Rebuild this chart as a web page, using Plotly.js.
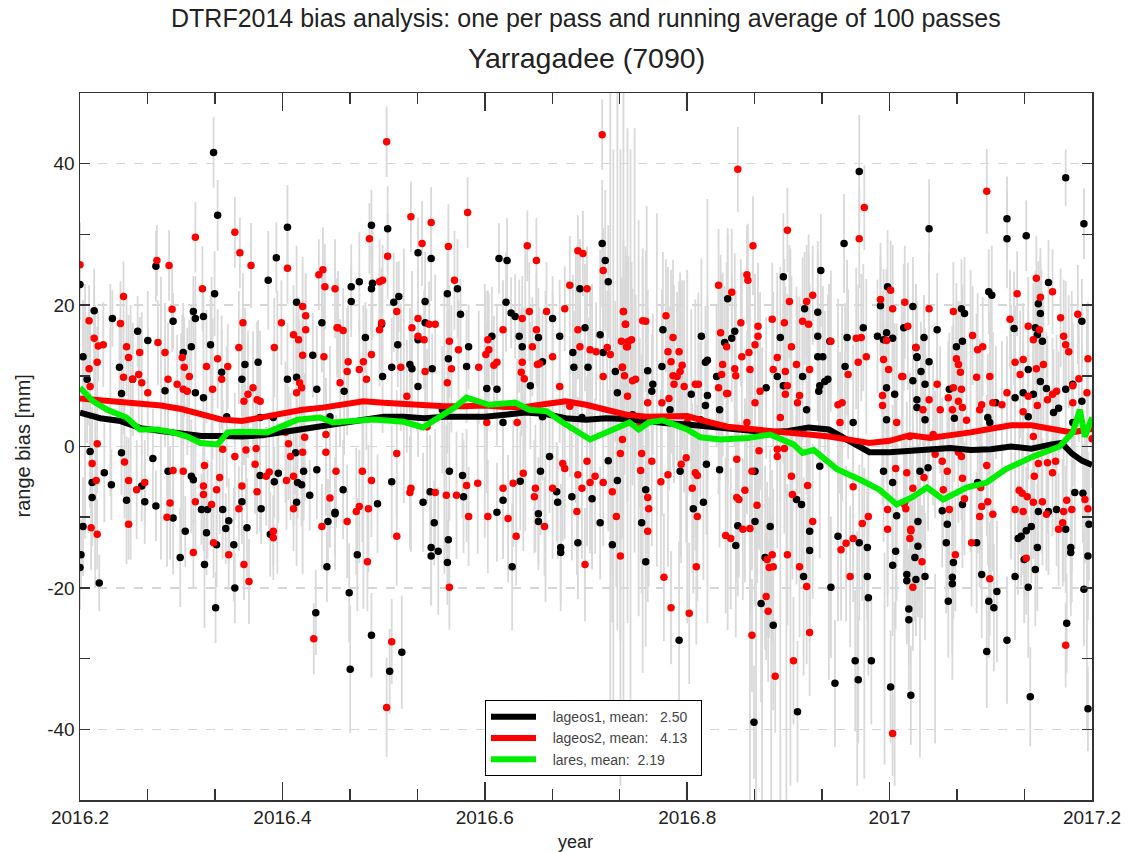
<!DOCTYPE html>
<html>
<head>
<meta charset="utf-8">
<script src="https://cdn.plot.ly/plotly-3.0.1.min.js"></script>
<style>html,body{margin:0;padding:0;background:#fff;}#chart{width:1128px;height:852px;}</style>
</head>
<body>
<div id="chart"></div>
<script>
// ---------- lageos1 (black) single-pass biases ----------
const lageos1_x = [
2016.200,2016.214,2016.232,2016.257,2016.267,2016.275,2016.284,2016.292,2016.200,2016.201,
2016.203,2016.219,2016.212,2016.212,2016.210,2016.231,2016.224,2016.241,2016.246,2016.261,
2016.264,2016.272,2016.275,2016.292,2016.287,2016.299,2016.304,2016.310,2016.312,2016.320,
2016.323,2016.325,2016.326,2016.334,2016.335,2016.341,2016.344,2016.347,2016.352,2016.353,
2016.360,2016.365,2016.379,2016.378,2016.388,2016.392,2016.396,2016.413,2016.415,2016.414,
2016.419,2016.427,2016.421,2016.433,2016.444,2016.434,2016.445,2016.452,2016.312,2016.314,
2016.322,2016.329,2016.332,2016.336,2016.333,2016.322,2016.310,2016.386,2016.394,2016.405,
2016.414,2016.430,2016.439,2016.414,2016.376,
2016.468,2016.468,2016.476,2016.488,2016.488,2016.489,2016.482,2016.504,2016.510,2016.515,
2016.514,2016.498,2016.534,2016.547,2016.541,2016.541,2016.534,2016.526,2016.528,2016.548,
2016.563,2016.573,2016.576,2016.584,2016.582,2016.564,2016.602,2016.614,2016.622,2016.621,
2016.626,2016.630,2016.634,2016.653,2016.637,2016.645,2016.657,2016.667,2016.674,2016.694,
2016.699,2016.688,2016.702,2016.719,2016.722,2016.716,2016.714,2016.729,2016.717,2016.687,
2016.460,2016.452,2016.474,2016.466,2016.488,2016.467,2016.508,2016.494,2016.506,2016.518,
2016.539,2016.550,2016.547,2016.547,2016.554,2016.563,2016.564,2016.546,2016.565,2016.578,
2016.579,2016.612,2016.627,2016.618,2016.635,2016.653,2016.653,2016.655,2016.664,2016.671,
2016.672,2016.675,2016.675,2016.692,2016.686,2016.706,2016.714,2016.726,2016.731,2016.722,
2016.761,2016.766,2016.765,2016.776,2016.775,2016.804,2016.818,2016.820,2016.814,2016.840,
2016.844,2016.837,2016.829,2016.820,2016.818,2016.847,2016.878,2016.889,2016.895,2016.892,
2016.895,2016.914,2016.916,2016.929,2016.929,2016.929,2016.932,2016.934,2016.931,2016.930,
2016.936,2016.939,2016.941,2016.956,2016.958,2016.955,2016.970,2016.974,2016.988,2016.994,
2016.997,2016.998,2016.991,2016.997,2017.003,2017.023,2017.014,2017.023,2017.005,2017.027,
2017.027,
2016.759,2016.755,2016.759,2016.792,2016.816,2016.819,2016.806,2016.848,2016.850,2016.867,
2016.867,2016.866,2016.873,2016.885,2016.877,2016.882,2016.909,2016.908,2016.913,2016.915,
2016.921,2016.921,2016.942,2016.946,2016.949,2016.970,2016.966,2016.969,2016.978,2016.979,
2016.982,2016.978,2017.001,2017.006,2017.003,2017.017,2017.019,2017.019,2017.021,2017.017,
2017.028,2017.028,2017.025,2017.007,2016.994,2017.003,
2017.039,2017.047,2017.034,2017.026,2017.027,2017.031,2017.039,2017.035,2017.027,2017.035,
2017.059,2017.064,2017.071,2017.074,2017.066,2017.072,2017.098,2017.101,2017.097,2017.105,
2017.116,2017.116,2017.135,2017.123,2017.124,2017.132,2017.137,2017.137,2017.142,2017.144,
2017.146,2017.147,2017.149,2017.151,2017.149,2017.155,2017.157,2017.162,2017.167,2017.174,
2017.181,2017.190,2017.190,2017.174,2017.192,
2017.026,2017.035,2017.030,2017.038,2017.052,2017.057,2017.056,2017.063,2017.062,2017.062,
2017.058,2017.072,2017.086,2017.091,2017.098,2017.103,2017.106,2017.096,2017.116,2017.087,
2017.124,2017.127,2017.130,2017.135,2017.140,2017.133,2017.137,2017.144,2017.146,2017.139,
2017.147,2017.157,2017.165,2017.174,2017.179,2017.179,2017.175,2017.183,2017.191,2017.197,
2017.196,2017.192,2017.196,
2016.203,2016.207,2016.239,2016.241,2016.252,2016.302,2016.314,2016.340,2016.345,2016.360,
2016.363,2016.378,2016.391,2016.405,2016.434,2016.447,2016.461,2016.499,2016.508,2016.534,
2016.558,2016.607,2016.612,2016.618,2016.657,2016.696,2016.731,2016.746,2016.783,2016.813,
2016.832,2016.918,2016.964,2016.997,2017.099,2017.181,2016.793,2016.832,2016.931
];
const lageos1_y = [
22.9,19.2,18.1,16.3,15.0,25.5,7.9,17.7,-17.1,-15.3,
-11.3,-19.3,-5.1,-7.2,-0.7,-5.4,-3.7,-0.9,-7.6,-5.6,
-7.8,-1.7,-8.4,-10.1,-3.5,-15.7,-12.0,-4.2,-4.7,-8.9,
-16.7,-12.2,-8.9,-22.8,-13.9,-8.9,-11.6,-10.5,-13.9,-20.0,
-7.8,-11.5,-8.8,-4.1,-12.4,-5.0,-3.8,-0.9,-5.1,-7.9,
-5.4,-6.9,-3.5,-23.5,-17.0,-3.3,-10.6,-9.5,19.1,18.1,
18.4,14.4,41.6,32.7,21.6,6.9,14.1,23.5,26.7,31.0,
20.4,12.9,17.5,9.8,11.9,
22.6,20.5,23.3,31.3,22.3,23.1,15.4,30.8,20.4,21.2,
14.4,17.3,27.4,26.6,20.5,17.5,15.1,11.6,11.0,11.0,
21.6,22.3,18.7,14.1,11.3,12.4,8.2,26.6,26.3,20.4,
18.9,18.4,15.6,15.4,14.1,8.6,12.0,18.1,15.6,22.3,
16.8,11.2,11.2,26.3,23.3,28.7,15.8,10.6,13.3,13.3,
-6.1,-9.3,-15.3,-20.7,-26.7,-31.5,-5.0,-8.1,-31.8,-29.1,
-7.9,-10.8,-14.3,-15.5,-14.8,-16.4,-13.2,-6.4,-3.5,-4.1,
-7.1,-9.3,-17.0,-7.6,-4.9,-9.5,-10.6,-3.5,-1.4,-6.4,
-7.9,-14.3,-15.0,-13.6,-7.1,-7.4,-10.8,-13.9,-4.8,-2.0,
10.7,8.8,7.8,16.5,11.3,7.4,11.9,12.2,15.6,20.9,
15.3,14.7,9.9,7.2,5.8,16.3,8.3,9.9,24.0,15.4,
8.6,9.9,19.5,19.0,15.6,12.7,24.9,12.7,8.6,7.8,
9.2,9.5,14.9,11.3,15.4,28.7,38.9,16.8,15.6,15.1,
8.3,22.6,19.9,16.1,15.3,19.8,16.8,9.3,7.4,12.7,
6.6,
-16.3,-10.8,-6.1,-27.4,-7.9,-2.5,-8.8,-14.0,-11.2,-10.6,
-3.5,-39.0,-22.2,-25.3,-15.7,-11.3,-37.5,-7.5,-8.2,-18.4,
-12.0,-14.7,-19.9,-33.5,-12.7,-13.6,-30.3,-33.0,-18.4,-21.4,
-30.3,-14.3,-34.0,-14.8,-16.8,-18.1,-23.0,-24.5,-35.2,-19.0,
-10.6,-14.1,-15.7,-9.8,-3.5,-5.1,
30.8,16.5,15.4,14.0,12.6,10.6,12.0,8.8,5.5,3.8,
8.1,4.0,19.5,18.8,14.1,14.9,21.9,21.4,4.1,6.2,
32.2,29.4,29.8,16.7,6.9,7.6,10.9,4.2,7.4,16.8,
15.8,20.2,18.8,14.9,9.2,8.2,23.2,4.8,5.4,8.1,
8.8,17.7,6.4,38.0,31.5,
-18.8,-18.4,-3.5,-3.0,-9.1,-11.0,-13.6,-16.4,-18.5,-19.4,
-21.9,-8.2,-13.6,-18.1,-21.9,-22.8,-20.5,-29.0,-27.4,-5.1,
-18.4,-13.0,-12.7,-11.9,-11.3,-16.0,-19.9,-17.4,-14.3,-35.4,
-9.2,-9.2,-8.9,-11.7,-14.3,-15.0,-25.0,-6.5,-6.6,-11.0,
-15.5,-20.2,-37.1,
12.7,9.5,11.2,7.5,9.5,13.3,7.6,10.5,4.2,9.5,
11.6,4.1,4.1,9.5,8.1,4.2,7.8,9.9,11.2,8.5,
5.2,15.6,8.1,3.4,4.2,4.1,7.6,4.5,5.2,3.8,
5.2,5.2,3.4,3.8,3.4,3.4,-3.5,-3.3,-2.8
];
const lageos1_err = [
5,6,4,5,7,5,8,4,6,5, 7,4,9,6,8,5,7,6,9,5, 6,7,5,8,6,7,5,8,6,5, 9,6,7,5,6,7,5,6,8,5,
6,7,5,8,6,5,7,6,5,9, 6,5,7,6,5,7,6,8,5,6, 4,7,5,5,6,8,6,7,5,6, 8,6,7,9,6,
6,5,7,5,6,8,5,6,7,5, 6,8,5,6,7,5,6,8,7,5, 6,7,5,6,8,7,9,5,6,7, 5,6,8,7,6,9,7,6,8,7, 9,8,7,10,8,9,12,10,9,11,
7,6,8,7,6,9,8,7,6,8, 7,6,8,7,9,6,7,8,7,6, 8,7,9,8,7,8,6,9,8,7, 8,9,7,8,9,10,8,11,9,10,
9,10,8,11,9,12,8,9,11,10, 9,8,10,12,9,11,10,12,9,10, 11,9,8,10,12,9,8,10,11,9, 10,12,8,9,11,7,8,9,8,10, 9,8,7,9,8,7,9,8,10,7, 8,
12,10,9,14,11,10,12,13,10,12, 11,8,14,12,13,11,10,12,11,14, 12,13,10,9,12,11,10,9,12,11, 9,10,8,11,10,9,8,10,7,9, 11,10,9,12,10,11,
7,8,6,9,8,7,9,8,10,9, 8,9,7,8,9,8,6,7,9,8, 6,7,5,8,9,7,8,9,7,8, 7,6,8,7,9,8,6,9,8,7, 8,6,8,4,5,
8,9,10,9,8,9,10,8,9,10, 8,9,10,9,8,9,10,8,9,10, 9,8,7,9,8,9,10,8,9,7, 8,9,8,9,8,9,7,8,7,8, 9,8,6,
8,9,7,10,8,7,9,8,10,7, 8,9,10,8,9,10,9,8,7,10, 9,7,8,10,9,11,8,10,9,11, 10,12,11,9,8,9,12,11,13
];

// ---------- lageos2 (red) single-pass biases ----------
const lageos2_x = [
2016.200,2016.209,2016.214,2016.218,2016.223,2016.209,2016.217,2016.240,2016.243,2016.246,
2016.248,2016.243,2016.259,2016.258,2016.276,2016.277,2016.284,2016.288,2016.291,2016.287,
2016.296,2016.211,2016.217,2016.212,2016.216,2016.217,2016.244,2016.248,2016.248,2016.256,
2016.264,2016.289,2016.286,2016.292,2016.302,2016.312,2016.314,2016.322,2016.322,2016.323,
2016.330,2016.335,2016.332,2016.338,2016.341,2016.347,2016.353,2016.357,2016.360,2016.362,
2016.367,2016.364,2016.373,2016.374,2016.375,2016.384,2016.387,2016.391,2016.391,2016.404,
2016.406,2016.408,2016.411,2016.411,2016.420,2016.431,2016.439,2016.443,2016.447,2016.453,
2016.314,2016.321,2016.325,2016.336,2016.301,2016.303,2016.308,2016.306,2016.340,2016.346,
2016.353,2016.358,2016.361,2016.357,2016.369,2016.392,2016.399,2016.405,2016.420,2016.423,
2016.423,2016.411,2016.416,2016.420,2016.441,2016.442,2016.436,2016.440,2016.452,2016.455,
2016.417,2016.419,2016.414,2016.378,2016.371,2016.362,
2016.454,2016.460,2016.465,2016.464,2016.476,2016.480,2016.486,2016.488,2016.496,2016.499,
2016.503,2016.504,2016.513,2016.498,2016.496,2016.527,2016.538,2016.547,2016.534,2016.545,
2016.551,2016.528,2016.534,2016.540,2016.517,2016.541,2016.564,2016.570,2016.565,2016.574,
2016.583,2016.567,2016.563,2016.594,2016.603,2016.604,2016.601,2016.609,2016.612,2016.618,
2016.637,2016.642,2016.651,2016.644,2016.651,2016.647,2016.636,2016.639,2016.637,2016.652,
2016.654,2016.661,2016.667,2016.679,2016.684,2016.701,2016.692,2016.697,2016.694,2016.704,
2016.710,2016.717,2016.716,2016.721,2016.724,2016.736,2016.737,2016.739,2016.735,2016.741,
2016.692,
2016.464,2016.484,2016.473,2016.476,2016.479,2016.485,2016.488,2016.513,2016.508,2016.503,
2016.513,2016.526,2016.527,2016.565,2016.551,2016.562,2016.582,2016.572,2016.584,2016.593,
2016.603,2016.623,2016.631,2016.618,2016.628,2016.638,2016.649,2016.650,2016.659,2016.667,
2016.677,2016.679,2016.691,2016.699,2016.696,2016.692,2016.701,2016.704,2016.709,2016.717,
2016.734,2016.730,2016.726,2016.734,
2016.737,2016.739,2016.742,2016.745,2016.740,2016.736,2016.738,2016.746,2016.749,2016.741,
2016.756,2016.759,2016.761,2016.779,2016.786,2016.781,2016.784,2016.792,2016.795,2016.793,
2016.786,2016.790,2016.787,2016.797,2016.782,2016.775,2016.808,2016.811,2016.831,2016.844,
2016.833,2016.839,2016.835,2016.834,2016.831,2016.839,2016.840,2016.847,2016.848,2016.850,
2016.853,2016.859,2016.860,2016.865,2016.861,2016.854,2016.862,2016.867,2016.870,2016.870,
2016.872,2016.867,2016.884,2016.885,2016.889,2016.896,2016.899,2016.901,2016.903,2016.897,
2016.899,2016.897,2016.908,2016.909,2016.918,2016.924,2016.914,2016.920,2016.921,2016.911,
2016.942,2016.949,2016.953,2016.969,2016.959,2016.975,2016.970,2016.967,2016.972,2016.977,
2016.994,2016.999,2016.993,2016.993,2016.991,2017.001,2016.997,2017.003,2017.015,2017.018,
2017.012,2017.007,2017.026,
2016.761,2016.762,2016.761,2016.754,2016.755,2016.765,2016.777,2016.784,2016.802,2016.809,
2016.810,2016.781,2016.794,2016.799,2016.808,2016.810,2016.805,2016.774,2016.838,2016.843,
2016.849,2016.851,2016.857,2016.855,2016.862,2016.869,2016.864,2016.864,2016.878,2016.880,
2016.887,2016.879,2016.881,2016.885,2016.884,2016.871,2016.889,2016.896,2016.899,2016.905,
2016.903,2016.904,2016.911,2016.918,2016.921,2016.919,2016.924,2016.952,2016.957,2016.964,
2016.961,2016.964,2016.973,2016.979,2017.003,2016.998,2017.023,2017.020,2017.021,2017.015,
2017.016,2016.998,2017.006,2017.017,
2017.039,2017.013,2017.047,2017.039,2017.033,2017.050,2017.058,2017.063,2017.071,2017.062,
2017.063,2017.066,2017.068,2017.070,2017.068,2017.072,2017.082,2017.087,2017.092,2017.086,
2017.089,2017.091,2017.076,2017.096,2017.099,2017.102,2017.111,2017.116,2017.119,2017.126,
2017.124,2017.129,2017.132,2017.132,2017.137,2017.137,2017.142,2017.145,2017.149,2017.148,
2017.152,2017.145,2017.146,2017.161,2017.156,2017.161,2017.165,2017.169,2017.172,2017.174,
2017.177,2017.181,2017.186,2017.195,2017.196,2017.187,2017.181,2017.200,
2017.021,2017.032,2017.014,2017.023,2017.034,2017.045,2017.053,2017.052,2017.057,2017.065,
2017.059,2017.068,2017.071,2017.074,2017.081,2017.089,2017.091,2017.099,2017.096,2017.097,
2017.102,2017.090,2017.072,2017.124,2017.132,2017.135,2017.128,2017.131,2017.136,2017.142,
2017.151,2017.155,2017.143,2017.147,2017.156,2017.161,2017.164,2017.167,2017.171,2017.172,
2017.180,2017.175,2017.174,2017.193,2017.196,
2016.210,2016.252,2016.261,2016.267,2016.302,2016.331,2016.366,2016.375,2016.403,2016.422,
2016.443,2016.457,2016.483,2016.523,2016.543,2016.602,2016.632,2016.674,2016.684,2016.717,
2016.736,2016.753,2016.800,2016.859,2016.892,2016.951,2017.020,2017.043,2017.142,2016.849,
2016.889
];
const lageos2_y = [
25.7,17.8,15.3,14.2,14.4,11.0,11.9,17.4,21.2,14.1,
12.6,9.8,13.3,10.2,26.3,14.7,13.3,25.6,19.4,9.5,
8.8,-11.5,-12.4,-2.4,-4.8,0.4,-2.2,-4.8,-11.0,-6.1,
-5.1,-8.0,-10.0,-3.4,-3.5,-15.0,-7.8,-5.6,-6.8,-2.7,
-8.2,-6.1,-13.6,-4.4,-0.4,-15.3,-1.4,-8.8,-5.6,-16.7,
-19.1,-0.5,-2.5,-0.3,-6.4,-4.2,-3.6,-12.0,-12.9,-4.8,
0.4,-1.4,-4.2,-8.8,-0.8,-27.2,-11.3,-0.8,-7.3,-3.5,
29.6,22.3,11.3,12.4,12.6,11.2,9.9,7.8,9.5,11.3,
30.3,27.4,17.5,14.0,25.6,14.0,17.5,25.2,19.8,18.5,
16.5,15.8,15.1,12.9,12.7,22.6,24.3,25.0,22.3,16.8,
9.0,8.3,7.6,6.4,8.3,6.4,
16.8,16.4,12.0,10.6,10.9,12.0,29.4,13.0,23.3,23.5,
43.1,26.9,19.1,17.5,16.5,32.5,28.7,31.7,18.1,17.3,
17.3,16.8,15.6,15.1,11.2,10.6,28.3,23.5,14.9,13.7,
33.1,11.0,9.0,11.2,15.1,13.7,13.0,11.5,11.9,16.5,
18.1,28.4,26.3,19.1,16.5,14.1,10.5,9.6,11.9,11.6,
11.7,19.1,12.7,19.5,22.8,22.3,27.7,27.3,14.1,13.7,
13.4,24.9,44.1,14.0,13.0,11.2,19.1,17.3,14.9,14.1,
16.5,
-10.6,-16.3,-9.2,-8.5,-3.5,-8.8,-4.8,-12.7,-27.6,-36.9,
-1.0,-6.5,-5.9,-19.9,-6.5,-6.9,-5.5,-6.9,-9.9,-5.2,
-9.9,-10.2,-12.7,-5.9,-5.2,-3.8,-7.1,-5.9,-11.3,-5.9,
-2.4,-3.1,-9.2,-16.7,-5.9,-4.0,-2.1,-5.1,-4.2,-5.1,
-15.5,-9.9,-6.4,-1.0,
19.1,17.3,14.9,15.1,14.1,11.2,10.0,9.3,9.5,7.1,
17.8,17.7,6.2,18.5,15.4,13.4,12.0,13.4,11.5,10.6,
10.0,9.9,8.8,8.5,6.8,6.2,8.8,8.8,22.8,21.8,
16.1,14.1,11.6,10.2,8.3,7.5,7.5,11.0,10.0,39.2,
17.5,24.3,23.5,28.4,13.3,12.7,10.9,14.4,17.0,15.6,
7.8,6.2,18.0,10.9,12.6,17.5,30.6,20.5,14.1,10.6,
8.6,7.4,11.6,6.2,20.5,21.4,17.7,17.3,10.9,7.2,
14.9,5.9,6.2,11.9,10.2,33.8,29.4,15.3,15.4,12.7,
12.3,10.9,7.2,5.8,20.8,22.1,15.0,19.5,20.4,17.0,
9.9,3.4,14.0,
-12.0,-8.8,-7.2,-3.4,-1.0,-2.1,-18.5,-22.8,-23.6,-17.0,
-9.9,-4.0,-2.5,-1.6,-3.7,-4.1,-5.9,-5.0,-12.6,-13.0,
-7.2,-7.5,-6.2,-11.7,-11.6,-8.3,-3.5,-26.7,-21.2,-23.3,
-32.5,-16.0,-17.1,-17.0,-15.3,-0.6,-1.4,-0.3,-15.3,-30.3,
-4.2,-6.8,-17.0,-19.8,-26.3,-5.5,-10.6,-14.6,-13.7,-13.0,
-18.4,-5.7,-10.9,-9.9,-40.6,-11.7,-19.9,-13.0,-11.9,-7.9,
-8.8,-8.9,-3.1,-3.7,
19.5,9.9,8.8,6.6,5.2,5.2,6.9,8.3,8.1,5.2,
19.1,12.4,11.6,10.5,6.4,5.5,15.7,13.7,14.1,9.8,
5.2,5.9,3.7,36.1,9.9,6.2,5.9,7.6,18.0,21.6,
11.9,10.2,12.3,4.9,7.1,17.0,15.1,23.8,21.1,16.5,
11.6,11.0,5.8,21.9,6.6,7.4,7.8,18.2,15.6,14.4,
13.4,8.6,18.7,7.6,12.4,9.6,6.2,1.1,
-11.7,-16.3,-8.1,-5.9,-4.4,-1.1,-6.1,-2.1,-3.5,-15.3,
-8.9,-0.8,-1.4,-7.4,-13.6,-9.9,-8.5,-18.7,-2.7,-7.8,
-9.6,-5.8,-4.5,-8.9,-9.2,-15.8,-6.2,-6.6,-7.1,-7.9,
-7.8,-9.6,-4.2,-2.4,-2.3,-3.7,-2.1,-11.7,-10.8,-9.2,
-8.9,-7.6,-28.1,-7.5,-8.8,
8.5,9.5,9.0,7.6,8.1,8.1,7.4,6.6,2.0,1.3,
1.7,9.0,9.5,7.1,2.8,3.4,3.4,8.5,5.7,9.9,
1.0,3.4,3.4,3.4,4.1,3.4,1.4,1.7,1.4,-1.8,
-0.4
];
const lageos2_err = [
6,5,7,5,6,8,5,6,5,7, 6,8,5,7,5,6,7,5,6,8, 7,6,5,8,6,7,8,6,5,7, 6,8,7,6,8,5,7,6,8,7, 6,7,5,8,7,5,9,6,7,5, 6,8,7,9,6,7,8,5,6,7, 8,9,7,6,8,5,6,9,7,8,
5,6,8,7,6,7,8,9,7,6, 5,5,7,8,6,7,6,5,7,6, 8,7,6,8,7,6,5,6,7,8, 9,8,9,10,8,9,
7,6,8,9,7,8,5,7,6,5, 5,6,7,6,8,5,6,5,7,6, 7,8,6,7,9,8,6,7,8,7, 5,9,10,8,7,8,9,7,8,7, 6,5,6,7,8,7,9,10,8,7, 8,7,9,6,7,6,5,6,8,9, 7,6,5,8,9,10,7,8,9,8, 7,
8,7,9,8,10,9,8,7,6,7, 9,8,9,6,9,10,8,9,7,10, 8,9,7,10,9,11,8,9,7,10, 11,10,9,8,10,11,12,10,11,9, 12,10,11,13,
10,11,12,11,13,12,14,13,12,15, 9,10,16,8,11,12,13,10,12,14, 13,12,14,15,13,16,12,13,8,9, 11,12,13,14,15,12,13,11,12,6, 9,7,8,7,11,12,13,10,9,10, 14,15,8,11,12,9,6,8,10,12, 13,14,11,15,8,7,9,10,12,14, 10,15,14,11,12,6,7,10,9,11, 10,11,13,14,8,7,10,9,8,9, 11,14,9,
10,11,12,13,14,12,9,8,10,11, 12,13,14,12,11,10,12,13,11,10, 12,11,13,10,12,11,14,8,9,10, 8,11,10,11,12,14,13,12,10,9, 13,12,10,11,9,12,11,10,11,9, 10,12,11,10,6,11,9,10,11,10, 9,12,11,10,
8,9,8,9,10,9,8,9,8,9, 7,8,9,10,9,10,7,8,7,9, 10,9,11,6,9,10,9,8,7,6, 8,9,8,10,9,7,8,6,7,8, 9,8,10,6,9,8,8,7,8,9, 8,9,7,9,8,9,9,7,
9,8,10,9,10,9,8,9,10,8, 9,10,9,8,9,10,9,8,10,9, 8,9,10,8,9,8,9,10,9,8, 9,8,10,9,10,9,10,8,9,10, 9,8,6,9,8,
9,8,10,9,8,10,9,11,10,9, 8,9,10,8,11,10,9,8,10,9, 14,12,11,13,12,10,9,10,9,12, 11
];

// ---------- lares single-pass biases (drawn as grey error bars only) ----------
const lares_x = [
2016.205,2016.215,2016.230,2016.250,2016.280,2016.300,2016.330,2016.360,2016.395,2016.420,
2016.480,2016.520,2016.560,2016.600,2016.640,2016.660,2016.690,2016.706,2016.724,2016.727,
2016.731,2016.734,2016.737,2016.741,2016.744,2016.748,2016.752,2016.756,2016.760,2016.770,
2016.800,2016.820,2016.840,2016.862,2016.868,2016.874,2016.883,2016.892,2016.898,2016.902,
2016.920,2016.940,2016.968,2016.975,2016.995,2017.005,2017.030,2017.045,2017.062,2017.080,
2017.100,2017.120,2017.150,2017.180,2017.195
];
const lares_y = [
5,0,8,2,4,0,6,3,2,0,
-5,10,2,5,8,0,10,3,8,2,
12,-3,6,10,0,15,4,-2,14,8,
0,5,2,-20,-25,-18,-30,-22,-28,-10,
5,-5,-30,-25,-30,-35,-20,-30,-8,5,
0,2,5,0,-10
];
const lares_err = [
18,20,15,18,20,16,18,15,20,18,
18,18,20,18,20,22,18,20,45,40,
38,45,50,35,42,30,28,30,20,25,
25,30,28,30,25,32,20,28,22,38,
25,28,18,22,15,13,24,12,25,20,
22,18,20,22,30
];

// ---------- running averages of 100 passes ----------
const avg_lageos1_x = [2016.20,2016.22,2016.24,2016.26,2016.28,2016.30,2016.32,2016.34,2016.36,2016.38,2016.40,2016.42,2016.44,2016.46,2016.48,2016.50,2016.52,2016.54,2016.56,2016.58,2016.60,2016.62,2016.64,2016.66,2016.68,2016.70,2016.72,2016.74,2016.76,2016.78,2016.80,2016.82,2016.84,2016.86,2016.88,2016.90,2016.92,2016.94,2016.96,2016.98,2017.00,2017.02,2017.04,2017.06,2017.08,2017.10,2017.12,2017.14,2017.16,2017.17,2017.18,2017.19,2017.20];
const avg_lageos1_y = [4.8,4.0,3.6,2.6,2.2,1.8,1.5,1.5,1.4,1.6,2.0,2.6,3.0,3.4,3.8,4.2,4.2,4.0,4.2,4.1,4.2,4.5,4.8,4.6,4.0,3.8,4.0,3.9,3.5,3.3,3.1,2.8,2.4,2.1,2.0,2.2,2.7,2.4,0.8,-0.8,-0.8,-0.6,-0.4,-0.2,-0.5,-0.4,0.0,-0.3,0.3,0.5,-1.0,-2.0,-2.6];
const avg_lageos2_x = [2016.20,2016.22,2016.24,2016.26,2016.28,2016.30,2016.32,2016.34,2016.36,2016.38,2016.40,2016.42,2016.44,2016.46,2016.48,2016.50,2016.52,2016.54,2016.56,2016.58,2016.60,2016.62,2016.64,2016.66,2016.68,2016.70,2016.72,2016.74,2016.76,2016.78,2016.80,2016.82,2016.84,2016.86,2016.88,2016.90,2016.92,2016.94,2016.96,2016.98,2017.00,2017.02,2017.04,2017.06,2017.08,2017.10,2017.12,2017.14,2017.16,2017.18,2017.20];
const avg_lageos2_y = [6.8,6.6,6.4,6.2,5.8,5.3,4.5,3.8,3.6,4.2,4.6,5.2,5.5,5.9,6.4,6.2,6.0,5.9,5.7,5.7,5.8,5.6,5.6,6.0,6.4,5.9,5.2,4.5,4.2,4.2,4.3,3.5,2.8,2.5,2.3,2.0,1.7,1.4,1.0,0.5,0.8,1.6,1.2,1.5,2.0,2.5,3.0,3.0,2.6,2.0,2.5];
const avg_lares_x = [2016.200,2016.213,2016.227,2016.246,2016.259,2016.276,2016.292,2016.306,2016.319,2016.336,2016.346,2016.358,2016.385,2016.398,2016.415,2016.437,2016.450,2016.490,2016.520,2016.539,2016.552,2016.570,2016.582,2016.604,2016.630,2016.644,2016.661,2016.677,2016.704,2016.720,2016.743,2016.752,2016.762,2016.776,2016.800,2016.813,2016.833,2016.860,2016.882,2016.905,2016.914,2016.925,2016.948,2016.971,2016.990,2017.007,2017.022,2017.037,2017.053,2017.076,2017.096,2017.115,2017.142,2017.168,2017.181,2017.188,2017.193,2017.200];
const avg_lares_y = [8.3,6.4,5.2,4.1,2.4,2.4,2.0,1.4,0.5,0.3,2.0,2.1,2.0,2.7,3.8,4.1,3.4,3.8,3.5,2.7,3.8,5.5,6.9,5.9,6.2,5.2,5.0,3.4,1.0,2.0,3.4,2.4,3.4,3.7,2.4,1.3,1.0,1.2,1.7,0.3,-0.9,-0.5,-3.2,-4.7,-6.1,-8.2,-7.2,-5.8,-7.5,-5.8,-5.1,-3.2,-1.4,0.0,2.0,5.2,1.4,4.1];

const NB = '\u00a0';
const legend_names = [
  NB + NB + NB + 'lageos1, mean:' + NB + NB + NB + '2.50' + NB + NB,
  NB + NB + NB + 'lageos2, mean:' + NB + NB + NB + '4.13' + NB + NB,
  NB + NB + NB + 'lares, mean:' + NB + NB + '2.19'
];

// ---------- traces ----------
const GREY = '#d9d9d9';
function errTrace(x, y, e) {
  return {type:'scatter', mode:'markers', x:x, y:y, showlegend:false, hoverinfo:'skip',
    marker:{size:2, color:GREY, opacity:0},
    error_y:{type:'data', array:e, visible:true, color:GREY, thickness:1.8, width:0}};
}
function ptTrace(x, y, c) {
  return {type:'scatter', mode:'markers', x:x, y:y, showlegend:false, hoverinfo:'skip',
    marker:{size:7.5, color:c, symbol:'circle', line:{width:0}}};
}
function avgTrace(x, y, c, name) {
  return {type:'scatter', mode:'lines', x:x, y:y, name:name, hoverinfo:'skip',
    line:{color:c, width:6}};
}

const traces = [
  errTrace(lares_x, lares_y, lares_err),
  errTrace(lageos1_x, lageos1_y, lageos1_err),
  errTrace(lageos2_x, lageos2_y, lageos2_err),
  ptTrace(lageos1_x, lageos1_y, '#000000'),
  ptTrace(lageos2_x, lageos2_y, '#ff0000'),
  avgTrace(avg_lageos1_x, avg_lageos1_y, '#000000', legend_names[0]),
  avgTrace(avg_lageos2_x, avg_lageos2_y, '#ff0000', legend_names[1]),
  avgTrace(avg_lares_x, avg_lares_y, '#00ee00', legend_names[2])
];

const xTickVals = [2016.2, 2016.4, 2016.6, 2016.8, 2017.0, 2017.2];
const xTickText = ['2016.2', '2016.4', '2016.6', '2016.8', '2017', '2017.2'];
const xMinor = [];
for (let i = 0; i < 15; i++) { xMinor.push(2016.2 + i * 0.2 / 3); }
const yTickVals = [-40, -20, 0, 20, 40];
const yTickText = ['-40', '-20', '0', '20', '40'];

const FONT = 'Liberation Sans, Arial, Helvetica, sans-serif';
const layout = {
  width: 1128, height: 852,
  margin: {l: 80, r: 36, t: 93, b: 52},
  paper_bgcolor: '#ffffff', plot_bgcolor: '#ffffff',
  font: {family: FONT, color: '#222', size: 18},
  showlegend: true,
  legend: {x: 0.4, y: 0.1415, xanchor: 'left', yanchor: 'top',
    bgcolor: '#ffffff', bordercolor: '#000000', borderwidth: 1.2,
    font: {family: FONT, size: 14, color: '#444'}, itemwidth: 45, tracegroupgap: 0},
  xaxis: {range: [2016.2, 2017.2], tickmode: 'array', tickvals: xTickVals, ticktext: xTickText,
    ticks: 'inside', ticklen: 18, tickwidth: 1.5, tickcolor: '#333',
    showline: true, linecolor: '#333', linewidth: 1.5, mirror: 'ticks',
    showgrid: false, zeroline: false, tickfont: {size: 19, color: '#222'},
    minor: {tickmode: 'array', tickvals: xMinor, ticks: 'inside', ticklen: 11, tickwidth: 1.5, tickcolor: '#333', showgrid: false}},
  yaxis: {range: [-50, 50], tickmode: 'array', tickvals: yTickVals, ticktext: yTickText,
    ticks: 'inside', ticklen: 10, tickwidth: 1.5, tickcolor: '#333',
    showline: true, linecolor: '#333', linewidth: 1.5, mirror: 'ticks',
    showgrid: true, gridcolor: '#d6d6d6', gridwidth: 1.5, griddash: 'dash',
    zeroline: false, tickfont: {size: 19, color: '#222'},
    minor: {tickmode: 'array', tickvals: [-30, -10, 10, 30], ticks: 'inside', ticklen: 10, tickwidth: 1.5, tickcolor: '#333', showgrid: false}},
  annotations: [
    {text: 'DTRF2014 bias analysis: one per pass and running average of 100 passes', xref: 'paper', yref: 'paper',
     x: 0.5, y: 1.106, xanchor: 'center', yanchor: 'middle', showarrow: false, font: {family: FONT, size: 25, color: '#222'}},
    {text: 'Yarragadee (7090)', xref: 'paper', yref: 'paper',
     x: 0.5, y: 1.0495, xanchor: 'center', yanchor: 'middle', showarrow: false, font: {family: FONT, size: 28.5, color: '#222'}},
    {text: 'year', xref: 'paper', yref: 'paper', x: 0.49, y: -0.0594, xanchor: 'center', yanchor: 'middle',
     showarrow: false, font: {family: FONT, size: 18, color: '#222'}},
    {text: 'range bias [mm]', xref: 'paper', yref: 'paper', x: -0.0573, y: 0.5, xanchor: 'center', yanchor: 'middle',
     textangle: -90, showarrow: false, font: {family: FONT, size: 20, color: '#222'}}
  ]
};

Plotly.newPlot('chart', traces, layout, {staticPlot: true, displayModeBar: false});
</script>
</body>
</html>
